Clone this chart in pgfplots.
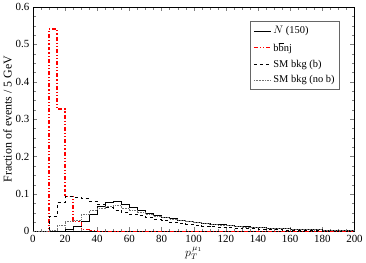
\documentclass[border=0pt]{standalone}
\usepackage{pgfplots}
\pgfplotsset{compat=1.18}
\usepackage{fontspec}
\setmainfont{Liberation Serif}
\begin{document}
\begin{tikzpicture}
\begin{axis}[
  scale only axis,
  width=324pt, height=226pt,
  xmin=0, xmax=200, ymin=0, ymax=0.6,
  xtick={0,20,...,200}, ytick={0,0.1,...,0.6},
  minor x tick num=3, minor y tick num=3,
  yticklabel style={/pgf/number format/fixed},
  /pgf/number format/assume math mode=true,
  tick label style={font=\fontsize{11}{13}\selectfont},
  xlabel={$p_T^{\,\mu_1}$},
  ylabel={Fraction of events / 5 GeV},
  label style={font=\fontsize{12}{14}\selectfont},
  xlabel style={yshift=2pt},
  ylabel style={yshift=-3pt},
  axis line style={line width=0.6pt},
  legend style={at={(0.954,0.937)}, anchor=north east, draw=black!60, font=\fontsize{10.5}{12}\selectfont, row sep=3pt, inner sep=3pt, cells={anchor=west}},
  legend image post style={},
]
% N(150)
\addplot[const plot mark left, black, line width=0.5pt] coordinates {
(0,0)(10,0)(15,0.001)(20,0.005)(25,0.014)(30,0.027)(35,0.045)(40,0.068)(45,0.079)(50,0.080)(55,0.073)(60,0.065)(65,0.056)(70,0.049)(75,0.043)(80,0.038)(85,0.034)(90,0.031)(95,0.028)(100,0.025)(105,0.023)(110,0.020)(115,0.018)(120,0.016)(125,0.014)(130,0.013)(135,0.011)(140,0.010)(145,0.009)(150,0.008)(155,0.007)(160,0.006)(165,0.006)(170,0.005)(175,0.005)(180,0.004)(185,0.004)(190,0.004)(195,0.003)(200,0.003)};
\addlegendentry{$N$ (150)}
% bbnj
\addplot[const plot mark left, color=red, line width=1.2pt, dash pattern=on 4pt off 2pt on 1.2pt off 2pt on 1.2pt off 2pt] coordinates {
(0,0)(10,0.541)(15,0.327)(20,0.094)(25,0.027)(30,0.006)(35,0.002)(40,0)(200,0)};
\addlegendentry{b$\overline{\mathrm{b}}$nj}
% SM bkg (b)
\addplot[const plot mark left, black, dashed, line width=0.5pt] coordinates {
(0,0)(10,0.040)(15,0.077)(20,0.093)(25,0.092)(30,0.088)(35,0.081)(40,0.072)(45,0.064)(50,0.057)(55,0.051)(60,0.046)(65,0.042)(70,0.037)(75,0.033)(80,0.029)(85,0.025)(90,0.022)(95,0.020)(100,0.017)(105,0.015)(110,0.013)(115,0.011)(120,0.010)(125,0.009)(130,0.008)(135,0.007)(140,0.006)(145,0.005)(150,0.005)(155,0.004)(160,0.004)(165,0.003)(170,0.003)(175,0.003)(180,0.002)(185,0.002)(190,0.002)(195,0.002)(200,0.002)};
\addlegendentry{SM bkg (b)}
% SM bkg (no b)
\addplot[const plot mark left, black!55, densely dotted, line width=0.6pt] coordinates {
(0,0)(10,0.004)(15,0.015)(20,0.028)(25,0.030)(30,0.045)(35,0.055)(40,0.061)(45,0.066)(50,0.069)(55,0.061)(60,0.055)(65,0.050)(70,0.045)(75,0.041)(80,0.037)(85,0.033)(90,0.030)(95,0.027)(100,0.024)(105,0.022)(110,0.019)(115,0.017)(120,0.015)(125,0.014)(130,0.012)(135,0.011)(140,0.010)(145,0.009)(150,0.008)(155,0.007)(160,0.006)(165,0.006)(170,0.005)(175,0.005)(180,0.004)(185,0.004)(190,0.004)(195,0.004)(200,0.004)};
\addlegendentry{SM bkg (no b)}
\end{axis}
\end{tikzpicture}
\end{document}
